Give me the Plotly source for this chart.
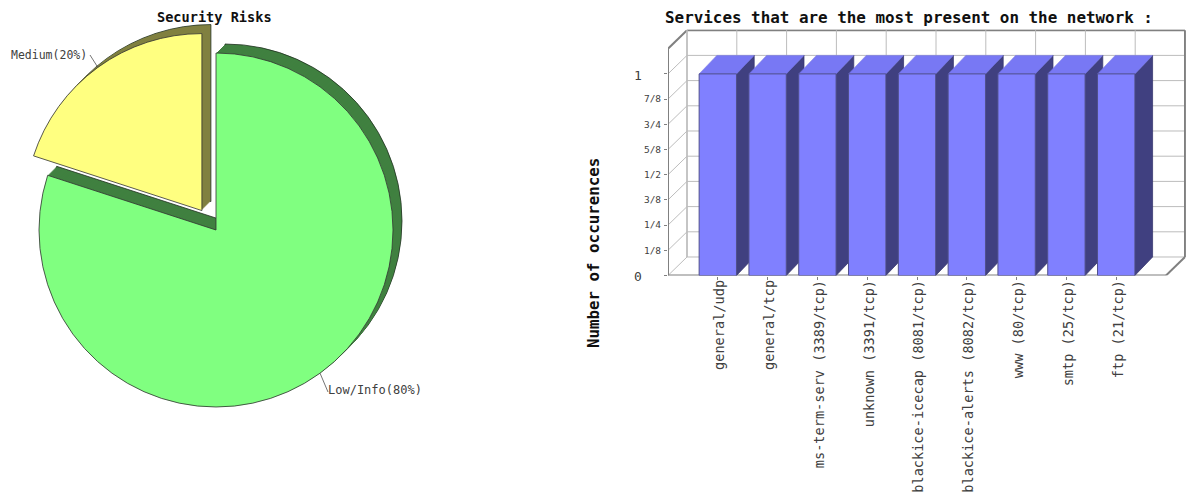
import math
import plotly.graph_objects as go

# Figure size
WIDTH, HEIGHT = 1190, 496

# Pie data
risk_labels = ["Low/Info", "Medium"]
risk_values = [80, 20]
risk_pull = [0, 0.1356]
risk_face_colors = ["#80FF80", "#FFFF80"]
risk_side_colors = ["#408040", "#808040"]

# Bar data
services = [
    "general/udp", "general/tcp", "ms-term-serv (3389/tcp)", "unknown (3391/tcp)",
    "blackice-icecap (8081/tcp)", "blackice-alerts (8082/tcp)",
    "www (80/tcp)", "smtp (25/tcp)", "ftp (21/tcp)",
]
occurrences = [1, 1, 1, 1, 1, 1, 1, 1, 1]
y_tick_values = [0, 0.125, 0.25, 0.375, 0.5, 0.625, 0.75, 0.875, 1]
y_tick_labels = ["", "1/8", "1/4", "3/8", "1/2", "5/8", "3/4", "7/8", ""]

MONO = "DejaVu Sans Mono"
LABEL_COLOR = "#404040"


def px(x):
    return x / WIDTH


def py(y):
    return 1 - y / HEIGHT


fig = go.Figure()

# --- Exploded pie, extruded by stacking shifted copies of it ---
CX, CY, OUTER = 216, 230, 201
PIE_DEPTH = 9


def pie_trace(shift, colors, line_width, line_color):
    return go.Pie(
        labels=risk_labels, values=risk_values, pull=risk_pull,
        sort=False, direction="clockwise", rotation=0,
        textinfo="none", hoverinfo="label+percent", showlegend=False,
        marker=dict(colors=colors, line=dict(color=line_color, width=line_width)),
        domain=dict(
            x=[px(CX + shift - OUTER), px(CX + shift + OUTER)],
            y=[py(CY - shift + OUTER), py(CY - shift - OUTER)],
        ),
    )


for shift in range(PIE_DEPTH, 0, -1):
    fig.add_trace(pie_trace(shift, risk_side_colors,
                            0.8 if shift == PIE_DEPTH else 0, "#203020"))
fig.add_trace(pie_trace(0, risk_face_colors, 0.8, "#303030"))

# Leader lines run radially out from each slice's mid angle
radius = OUTER * 2 / (2 * (1 + max(risk_pull)))
total = sum(risk_values)
shapes = []
start = 0
leader_ends = [(328, 392), (90, 55)]
for value, pull, end in zip(risk_values, risk_pull, leader_ends):
    mid = math.radians((start + value / 2) / total * 360)
    start += value
    ox = CX + pull * radius * math.sin(mid)
    oy = CY - pull * radius * math.cos(mid)
    sx = ox + radius * math.sin(mid)
    sy = oy - radius * math.cos(mid)
    shapes.append(dict(
        type="line", xref="paper", yref="paper",
        x0=px(sx), y0=py(sy), x1=px(end[0]), y1=py(end[1]),
        line=dict(color="#505050", width=0.8),
    ))

# --- 3D column chart ---
X_UNIT, Y_UNIT = 49.8, 201.6
X_LEFT, Y_FLOOR = 668, 275.5
X_MAX, Y_MAX = 10.4, 1.22
X_SLOTS, Y_TOP = 10, 1.125
WALL_DX, WALL_DY = 19 / X_UNIT, 18.5 / Y_UNIT
BAR_DX, BAR_DY = 17.7 / X_UNIT, 18.5 / Y_UNIT
BAR_WIDTH = 0.75
bar_positions = list(range(1, len(services) + 1))

GRID = "#bcbcbc"
FRAME = "#808080"


def wire(xs, ys, color, width):
    fig.add_trace(go.Scatter(
        x=xs, y=ys, mode="lines", line=dict(color=color, width=width),
        hoverinfo="skip", showlegend=False, cliponaxis=False,
        xaxis="x", yaxis="y",
    ))


grid_levels = y_tick_values + [Y_TOP]
for level in grid_levels:
    # Left wall then back wall
    top = level == Y_TOP
    wire([0, WALL_DX], [level, level + WALL_DY], FRAME if top else GRID, 2 if top else 1)
    wire([WALL_DX, X_SLOTS + WALL_DX], [level + WALL_DY] * 2, FRAME if top else GRID, 2 if top else 1)
for slot in range(X_SLOTS + 1):
    last = slot == X_SLOTS
    wire([slot + WALL_DX] * 2, [WALL_DY, Y_TOP + WALL_DY], FRAME if last else GRID, 2 if last else 1)
wire([WALL_DX, WALL_DX], [WALL_DY, Y_TOP + WALL_DY], GRID, 1.5)

# Floor and front axis
wire([X_SLOTS, X_SLOTS + WALL_DX], [0, WALL_DY], FRAME, 2)
wire([0, X_SLOTS], [0, 0], FRAME, 2)
wire([0, 0], [0, Y_TOP], FRAME, 2)

# Side and top faces of each column
for pos, value in zip(bar_positions, occurrences):
    left, right = pos - BAR_WIDTH / 2, pos + BAR_WIDTH / 2
    fig.add_trace(go.Scatter(
        x=[right, right + BAR_DX, right + BAR_DX, right, right],
        y=[0, BAR_DY, value + BAR_DY, value, 0],
        mode="lines", fill="toself", fillcolor="#404080",
        line=dict(color="#383870", width=0.8),
        hoverinfo="skip", showlegend=False, xaxis="x", yaxis="y",
    ))
    fig.add_trace(go.Scatter(
        x=[left, left + BAR_DX, right + BAR_DX, right, left],
        y=[value, value + BAR_DY, value + BAR_DY, value, value],
        mode="lines", fill="toself", fillcolor="#7878F4",
        line=dict(color="#7070E0", width=0.5),
        hoverinfo="skip", showlegend=False, xaxis="x", yaxis="y",
    ))

# Front faces sit on an overlay axis pair so they cover the neighbouring side faces
fig.add_trace(go.Bar(
    x=bar_positions, y=occurrences, width=BAR_WIDTH,
    marker=dict(color="#8080FF", line=dict(color="#50508C", width=1)),
    hovertext=services, hoverinfo="text+y", showlegend=False,
    xaxis="x2", yaxis="y2",
))

x_domain = [px(X_LEFT), px(X_LEFT + X_UNIT * X_MAX)]
y_domain = [py(Y_FLOOR), py(Y_FLOOR - Y_UNIT * Y_MAX)]

annotations = [
    dict(text="<b>Security Risks</b>", x=px(214.5), y=py(17),
         font=dict(family=MONO, size=13.6, color="#101010")),
    dict(text="Medium(20%)", x=px(49), y=py(55),
         font=dict(family=MONO, size=11.5, color=LABEL_COLOR)),
    dict(text="Low/Info(80%)", x=px(375), y=py(389.5),
         font=dict(family=MONO, size=12, color=LABEL_COLOR)),
    dict(text="<b>Services that are the most present on the network :</b>",
         x=px(909), y=py(17), font=dict(family=MONO, size=15.9, color="#101010")),
    dict(text="<b>Number of occurences</b>", x=px(593), y=py(253), textangle=-90,
         font=dict(family=MONO, size=15.8, color="#101010")),
]
annotations = [dict(a, xref="paper", yref="paper", showarrow=False,
                    xanchor="center", yanchor="middle") for a in annotations]
for text, value, nudge in (("0", 0, -1), ("1", 1, -2)):
    annotations.append(dict(
        text=text, xref="paper", yref="y", x=px(638), y=value, yshift=nudge,
        showarrow=False, xanchor="center", yanchor="middle",
        font=dict(family=MONO, size=13, color=LABEL_COLOR),
    ))

fig.update_layout(
    width=WIDTH, height=HEIGHT,
    margin=dict(l=0, r=0, t=0, b=0),
    paper_bgcolor="white", plot_bgcolor="white",
    showlegend=False,
    shapes=shapes, annotations=annotations,
    xaxis=dict(
        domain=x_domain, range=[0, X_MAX], tickmode="array",
        tickvals=bar_positions, ticktext=services, tickangle=-90,
        ticks="outside", ticklen=3, tickcolor=FRAME, showgrid=False, zeroline=False,
        showline=False, ticklabelstandoff=-5, ticklabelshift=2,
        tickfont=dict(family=MONO, size=13.6, color=LABEL_COLOR),
    ),
    yaxis=dict(
        domain=y_domain, range=[0, Y_MAX], tickmode="array",
        tickvals=y_tick_values, ticktext=y_tick_labels,
        ticks="outside", ticklen=3, tickcolor=FRAME, showgrid=False, zeroline=False,
        showline=False, ticklabelstandoff=1,
        tickfont=dict(family=MONO, size=9.5, color=LABEL_COLOR),
    ),
    xaxis2=dict(domain=x_domain, range=[0, X_MAX], overlaying="x", visible=False),
    yaxis2=dict(domain=y_domain, range=[0, Y_MAX], overlaying="y", visible=False),
)

fig.write_html("out.html")
